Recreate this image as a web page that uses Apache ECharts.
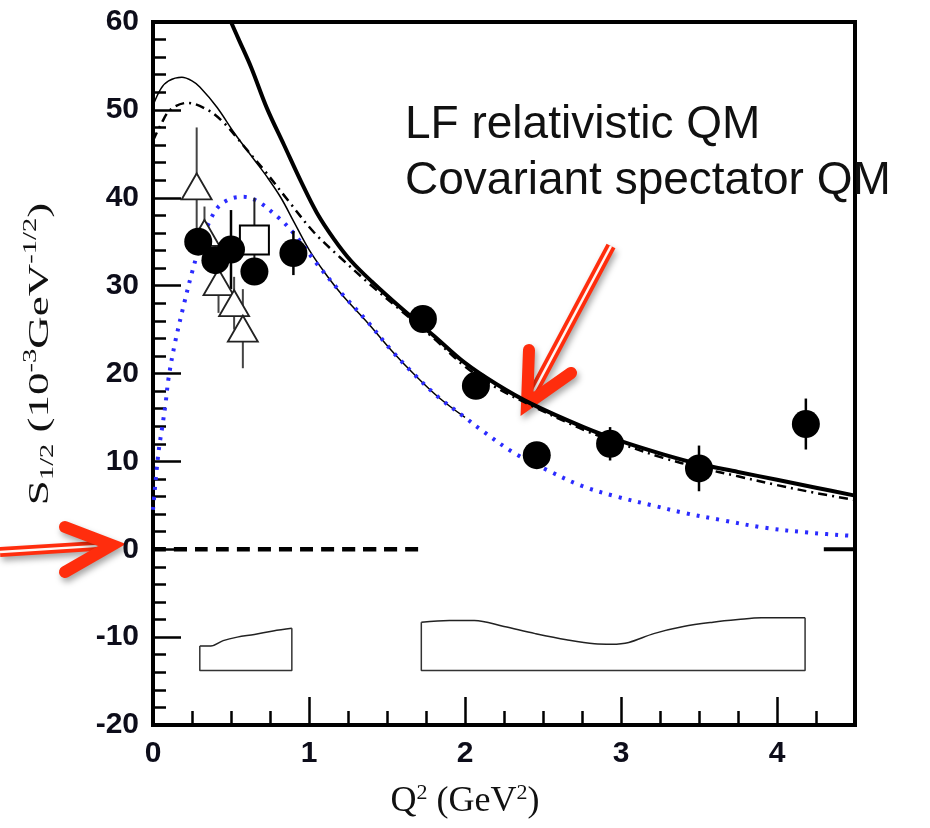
<!DOCTYPE html>
<html>
<head>
<meta charset="utf-8">
<script src="https://cdn.jsdelivr.net/npm/echarts@6/dist/echarts.min.js"></script>
<style>
html, body { margin: 0; padding: 0; background: #fff; }
#chart { width: 930px; height: 828px; }
</style>
</head>
<body>
<div id="chart"></div>
<script>
// model curves (x = Q^2, y = S1/2)
var thickX = [0.5, 0.55, 0.63, 0.73, 0.84, 0.95, 1.05, 1.16, 1.27, 1.4, 1.6, 1.8, 2.0, 2.2, 2.42, 2.76, 3.0, 3.27, 3.5, 3.75, 4.0, 4.25, 4.5];
var thickY = [60, 58, 54.8, 50.2, 46, 41.8, 38.3, 35.3, 32.8, 30.5, 27.3, 24.3, 21.2, 18.8, 16.6, 13.9, 12.3, 10.8, 9.7, 8.8, 7.9, 7.0, 6.1];

var thinX = [0, 0.05, 0.1, 0.185, 0.25, 0.3, 0.41, 0.52, 0.65, 0.73, 0.82, 0.905, 1.0, 1.1, 1.21, 1.38, 1.53, 1.68, 1.83, 2.0];
var thinY = [50.5, 52.4, 53.3, 53.7, 53.3, 52.6, 50.3, 47.4, 44.3, 42.4, 40.0, 37.2, 34.1, 31.5, 29.0, 25.7, 22.6, 19.8, 17.3, 15.0];

var dashDotX = [0, 0.05, 0.11, 0.22, 0.35, 0.45, 0.54, 0.6, 0.71, 0.87, 1.03, 1.2, 1.4, 1.6, 1.8, 2.0, 2.2, 2.42, 2.76, 3.0, 3.27, 3.5, 3.75, 4.0, 4.25, 4.5];
var dashDotY = [46.5, 48.3, 50, 50.8, 50, 48.6, 46.8, 45.5, 43.2, 39.6, 36.1, 33.2, 30.0, 27.0, 24.0, 20.8, 18.4, 16.4, 13.6, 12.0, 10.4, 9.3, 8.3, 7.3, 6.4, 5.6];

var blueX = [0, 0.035, 0.06, 0.08, 0.1, 0.14, 0.2, 0.25, 0.3, 0.36, 0.42, 0.5, 0.58, 0.67, 0.8, 0.9, 1.05, 1.21, 1.38, 1.53, 1.68, 1.83, 2.0, 2.11, 2.32, 2.54, 2.75, 2.97, 3.2, 3.4, 3.65, 3.92, 4.2, 4.5];
var blueY = [4.5, 11, 14, 16.5, 19.5, 23.4, 28, 31.5, 34.5, 37.2, 39, 39.9, 40.1, 39.6, 37.8, 36, 32.5, 29.1, 25.8, 22.6, 19.8, 17.3, 15, 13.5, 10.9, 8.9, 7.2, 6.0, 5.0, 4.15, 3.3, 2.45, 1.9, 1.5];

var zeroDashX = [0, 1.75];
var zeroStubX = [4.3, 4.5];

// data points
var circleX = [0.29, 0.40, 0.50, 0.65, 0.90, 1.73, 2.07, 2.46, 2.93, 3.50, 4.185];
var circleY = [35.0, 32.9, 34.1, 31.6, 33.7, 26.2, 18.6, 10.7, 12.0, 9.2, 14.25];
var circleErr = [1.5, 1.5, 4.5, 1.5, 2.5, 1.0, 1.0, 1.0, 1.9, 2.6, 2.9];

var triX = [0.28, 0.33, 0.42, 0.52, 0.576];
var triY = [41.3, 36.0, 30.4, 28.0, 25.1];
var triErr = [6.7, 3.0, 3.5, 3.0, 4.5];

var squareX = [0.65];
var squareY = [35.2];
var squareErr = [4.8];

// systematic error bands
var bandLeftX = [0.30, 0.37, 0.45, 0.54, 0.65, 0.77, 0.89];
var bandLeftTop = [-11.0, -11.0, -10.4, -10.0, -9.7, -9.3, -9.0];
var bandRightX = [1.72, 1.9, 2.06, 2.25, 2.45, 2.65, 2.83, 2.94, 3.05, 3.21, 3.4, 3.59, 3.75, 3.9, 4.18];
var bandRightTop = [-8.3, -8.1, -8.1, -8.8, -9.6, -10.3, -10.75, -10.8, -10.6, -9.6, -8.8, -8.3, -8.0, -7.8, -7.8];
var bandBottom = -13.8;

function zip(xs, ys) {
  return xs.map(function (x, i) { return [x, ys[i]]; });
}
function errRows(xs, ys, es) {
  return xs.map(function (x, i) { return [x, ys[i] - es[i], ys[i] + es[i]]; });
}
function bandFrame(xs, tops) {
  var a = xs[0], b = xs[xs.length - 1];
  return [[a, tops[0]], [a, bandBottom], [b, bandBottom], [b, tops[tops.length - 1]]];
}
function curve(data, style, z) {
  return { type: 'line', data: data, symbol: 'none', smooth: 0.35, lineStyle: style, z: z, silent: true };
}
function errorBars(rows, color, width) {
  return {
    type: 'custom', data: rows, z: 4, silent: true,
    encode: { x: 0, y: [1, 2] },
    renderItem: function (params, api) {
      var lo = api.coord([api.value(0), api.value(1)]);
      var hi = api.coord([api.value(0), api.value(2)]);
      return { type: 'line', shape: { x1: lo[0], y1: lo[1], x2: hi[0], y2: hi[1] },
               style: { stroke: color, lineWidth: width } };
    }
  };
}

var red = '#ff2d0d';
var shadow = { shadowBlur: 6, shadowColor: 'rgba(0,0,0,0.35)', shadowOffsetX: 2, shadowOffsetY: 4 };
function arrow(tail, tip, w1, w2) {
  var dx = tip[0] - tail[0], dy = tip[1] - tail[1];
  var len = Math.sqrt(dx * dx + dy * dy);
  var end = [tip[0] - dx / len * 14, tip[1] - dy / len * 14];
  return {
    type: 'group', children: [
      { type: 'polyline', shape: { points: [tail, end] },
        style: Object.assign({ stroke: red, lineWidth: 10, fill: null }, shadow) },
      { type: 'polyline', shape: { points: [tail, end] },
        style: { stroke: '#fff6f2', lineWidth: 2.5, fill: null } },
      { type: 'polyline', shape: { points: [w1, tip, w2] },
        style: Object.assign({ stroke: red, lineWidth: 12, lineCap: 'round', lineJoin: 'miter', fill: null }, shadow) }
    ]
  };
}

var chart = echarts.init(document.getElementById('chart'));
var labelFont = { fontSize: 30, fontWeight: 'bold', fontFamily: 'Liberation Sans', color: '#0d0d1a' };

chart.setOption({
  backgroundColor: '#fff',
  animation: false,
  grid: { left: 153, right: 75, top: 22, bottom: 103, show: true, borderColor: '#000', borderWidth: 4 },
  xAxis: [
    {
      type: 'value', min: 0, max: 4.5, interval: 1,
      axisLine: { onZero: false, lineStyle: { color: '#000', width: 4 } },
      axisTick: { inside: true, length: 28, lineStyle: { color: '#000', width: 2.5 } },
      axisLabel: Object.assign({ margin: 14, showMaxLabel: false }, labelFont),
      splitLine: { show: false }
    },
    {
      type: 'value', min: 0, max: 4.5, interval: 0.25, position: 'bottom',
      axisLine: { show: false, onZero: false },
      axisTick: { inside: true, length: 14, lineStyle: { color: '#000', width: 2.5 } },
      axisLabel: { show: false },
      splitLine: { show: false }
    }
  ],
  yAxis: {
    type: 'value', min: -20, max: 60, interval: 10,
    axisLine: { onZero: false, lineStyle: { color: '#000', width: 4 } },
    axisTick: { inside: true, length: 28, lineStyle: { color: '#000', width: 2.5 } },
    minorTick: { show: true, splitNumber: 5, length: 13, lineStyle: { color: '#000', width: 2.5 } },
    axisLabel: Object.assign({ margin: 14 }, labelFont),
    splitLine: { show: false }
  },
  series: [
    curve(zip(bandLeftX, bandLeftTop), { color: '#222', width: 1.5 }, 2),
    curve(bandFrame(bandLeftX, bandLeftTop), { color: '#333', width: 1.5 }, 2),
    curve(zip(bandRightX, bandRightTop), { color: '#222', width: 1.5 }, 2),
    curve(bandFrame(bandRightX, bandRightTop), { color: '#333', width: 1.5 }, 2),
    curve(zip(zeroDashX, [0, 0]), { color: '#000', width: 4.5, type: [13, 8] }, 2),
    curve(zip(zeroStubX, [0, 0]), { color: '#000', width: 4 }, 2),
    curve(zip(thinX, thinY), { color: '#000', width: 1.5 }, 2),
    curve(zip(dashDotX, dashDotY), { color: '#000', width: 2.5, type: [9, 5, 2, 5] }, 2),
    curve(zip(thickX, thickY), { color: '#000', width: 4 }, 2),
    curve(zip(blueX, blueY), { color: '#2b2bff', width: 4, type: [3, 7] }, 3),
    errorBars(errRows(triX, triY, triErr), '#444', 2),
    errorBars(errRows(squareX, squareY, squareErr), '#222', 2),
    errorBars(errRows(circleX, circleY, circleErr), '#000', 2.5),
    { type: 'scatter', data: zip(triX, triY), symbol: 'triangle', symbolSize: [30, 26], z: 5, silent: true,
      itemStyle: { color: '#fff', borderColor: '#222', borderWidth: 1.8, opacity: 1 } },
    { type: 'scatter', data: zip(squareX, squareY), symbol: 'rect', symbolSize: 29, z: 5, silent: true,
      itemStyle: { color: '#fff', borderColor: '#000', borderWidth: 2, opacity: 1 } },
    { type: 'scatter', data: zip(circleX, circleY), symbol: 'circle', symbolSize: 28, z: 6, silent: true,
      itemStyle: { color: '#000', opacity: 1 } }
  ],
  graphic: [
    { type: 'text', x: 40, y: 354, rotation: Math.PI / 2, scaleX: 1.5, z: 10,
      style: {
        text: '{m|S}{sb|1/2}{m| (10}{sp|-3}{m|GeV}{sp|-1/2}{m|)}',
        align: 'center', verticalAlign: 'middle', fill: '#111',
        rich: {
          m: { fontSize: 30, fontFamily: 'Liberation Serif', lineHeight: 36, fill: '#111' },
          sb: { fontSize: 19, fontFamily: 'Liberation Serif', lineHeight: 19, verticalAlign: 'bottom', fill: '#111' },
          sp: { fontSize: 19, fontFamily: 'Liberation Serif', lineHeight: 19, verticalAlign: 'top', fill: '#111' }
        }
      } },
    { type: 'text', x: 465, y: 802, z: 10,
      style: {
        text: '{m|Q}{sp|2}{m| (GeV}{sp|2}{m|)}',
        align: 'center', verticalAlign: 'middle', fill: '#111',
        rich: {
          m: { fontSize: 36, fontFamily: 'Liberation Serif', lineHeight: 40, fill: '#111' },
          sp: { fontSize: 22, fontFamily: 'Liberation Serif', lineHeight: 22, verticalAlign: 'top', fill: '#111' }
        }
      } },
    { type: 'text', x: 405, y: 125, z: 10,
      style: { text: 'LF relativistic QM', font: '46px "Liberation Sans"', fill: '#111', verticalAlign: 'middle' } },
    { type: 'text', x: 405, y: 181, z: 10,
      style: { text: 'Covariant spectator QM', font: '46px "Liberation Sans"', fill: '#111', verticalAlign: 'middle' } },
    arrow([611, 246], [527, 404], [529, 350], [571, 373]),
    arrow([0, 552], [112, 545], [65, 527], [65, 572])
  ]
});
</script>
</body>
</html>
